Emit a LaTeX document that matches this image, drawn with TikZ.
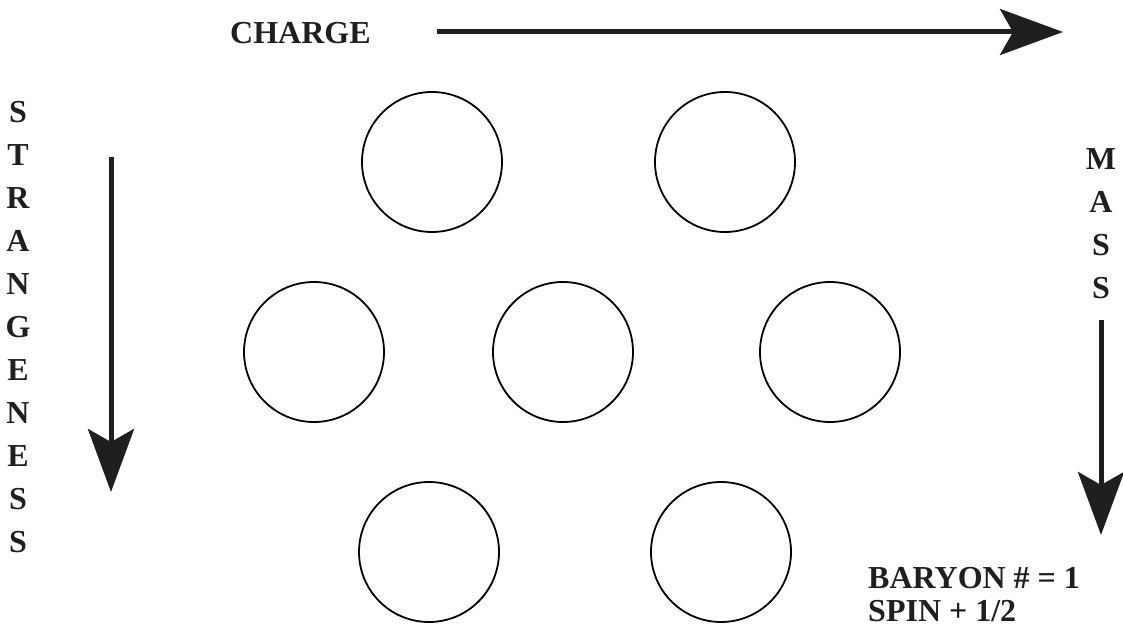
\documentclass[tikz,border=0pt]{standalone}
\usepackage{fontspec}
\setmainfont{Liberation Serif}
\usetikzlibrary{arrows.meta}

\tikzset{
  particle/.style={circle, draw=black, line width=1.8pt, minimum size=140pt, inner sep=0pt},
  axis/.style={line width=5pt, draw={black!88}, -{Stealth[length=63pt, width=46pt, inset=13pt]}},
  label/.style={font=\bfseries\fontsize{32}{43}\selectfont, text=black!88, inner sep=0pt},
  column/.style={label, align=center}
}

\begin{document}
\begin{tikzpicture}[x=1pt, y=-1pt]
  \useasboundingbox (0,0) rectangle (1123,628);

  % octet of baryon slots
  \node[particle] (c1) at (432,162) {};
  \node[particle] (c2) at (725,162) {};
  \node[particle] (c3) at (314,352) {};
  \node[particle] (c4) at (563,352) {};
  \node[particle] (c5) at (830,352) {};
  \node[particle] (c6) at (429,552) {};
  \node[particle] (c7) at (721,552) {};

  % charge axis
  \node[label, anchor=west] (charge) at (230,33) {CHARGE};
  \coordinate (chargeStart) at (437,32);
  \coordinate (chargeEnd) at (1063,32);
  \draw[axis] (chargeStart) -- (chargeEnd);

  % strangeness axis
  \node[column] (strangeness) at (18,327) {S\\T\\R\\A\\N\\G\\E\\N\\E\\S\\S};
  \coordinate (strangeStart) at (111,157);
  \coordinate (strangeEnd) at (111,492);
  \draw[axis] (strangeStart) -- (strangeEnd);

  % mass axis
  \node[column] (mass) at (1101,224) {M\\A\\S\\S};
  \coordinate (massStart) at (1101,320);
  \coordinate (massEnd) at (1101,535);
  \draw[axis] (massStart) -- (massEnd);

  % quantum numbers
  \node[label, anchor=west] (baryon) at (868,578) {BARYON \# = 1};
  \node[label, anchor=west] (spin) at (868,611) {SPIN + 1/2};
\end{tikzpicture}
\end{document}
